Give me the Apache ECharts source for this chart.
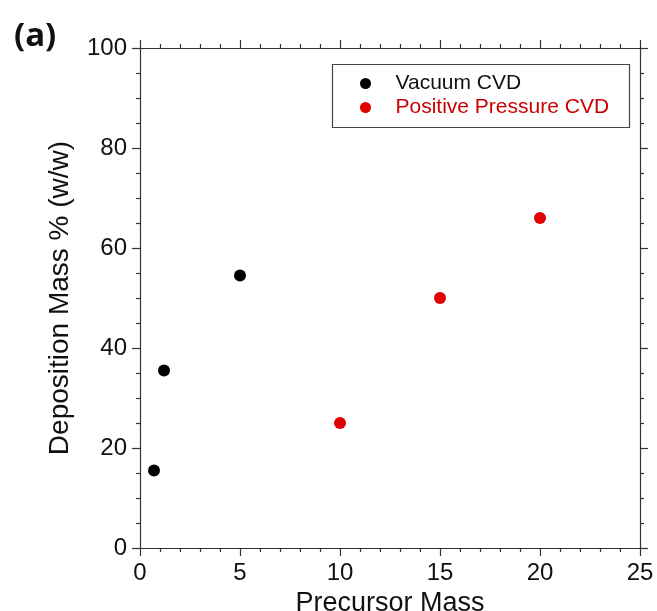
<!DOCTYPE html>
<html>
<head>
<meta charset="utf-8">
<script src="https://cdn.jsdelivr.net/npm/echarts@6/dist/echarts.min.js"></script>
<style>
html,body{margin:0;padding:0;background:#fff;}
#chart{width:657px;height:611px;}
</style>
</head>
<body>
<div id="chart"></div>
<script>
// Data
var seriesNames = ['Vacuum CVD', 'Positive Pressure CVD'];
var vacuumX = [0.7, 1.2, 5];
var vacuumY = [15.5, 35.5, 54.5];
var pressureX = [10, 15, 20];
var pressureY = [25, 50, 66];
var xTicks = [0, 5, 10, 15, 20, 25];
var yTicks = [0, 20, 40, 60, 80, 100];
var xTitle = 'Precursor Mass';
var yTitle = 'Deposition Mass % (w/w)';
var panelLabel = '(a)';

function pairs(xs, ys) { return xs.map(function (x, i) { return [x, ys[i]]; }); }

var FONT = '"Liberation Sans", Arial, sans-serif';
var AX = '#333';

function axisCommon(extra) {
  var base = {
    type: 'value',
    axisLine: { show: true, onZero: false, lineStyle: { color: AX, width: 1.2 } },
    axisTick: { show: true, inside: false, length: 8, lineStyle: { color: AX, width: 1.2 } },
    minorTick: { show: true, length: 4, lineStyle: { color: AX, width: 1.2 } },
    splitLine: { show: false },
    minorSplitLine: { show: false }
  };
  for (var k in extra) base[k] = extra[k];
  return base;
}

var chart = echarts.init(document.getElementById('chart'), null, { renderer: 'canvas' });
chart.setOption({
  backgroundColor: '#fff',
  animation: false,
  grid: { left: 140, right: 17, top: 48, bottom: 63, containLabel: false, outerBoundsMode: 'none' },
  xAxis: [
    axisCommon({
      position: 'bottom', min: xTicks[0], max: xTicks[xTicks.length - 1], interval: xTicks[1] - xTicks[0],
      minorTick: { show: true, splitNumber: 5, length: 4, lineStyle: { color: AX, width: 1.2 } },
      axisLabel: { show: true, margin: 13, fontSize: 24, color: '#111', fontFamily: FONT },
      name: xTitle, nameLocation: 'middle', nameGap: 34,
      nameTextStyle: { fontSize: 27, color: '#111', fontFamily: FONT }
    }),
    axisCommon({
      position: 'top', min: xTicks[0], max: xTicks[xTicks.length - 1], interval: xTicks[1] - xTicks[0],
      minorTick: { show: true, splitNumber: 5, length: 4, lineStyle: { color: AX, width: 1.2 } },
      axisLabel: { show: false }
    })
  ],
  yAxis: [
    axisCommon({
      position: 'left', min: yTicks[0], max: yTicks[yTicks.length - 1], interval: yTicks[1] - yTicks[0],
      minorTick: { show: true, splitNumber: 4, length: 4, lineStyle: { color: AX, width: 1.2 } },
      axisLabel: { show: true, margin: 13, fontSize: 24, color: '#111', fontFamily: FONT },
      name: yTitle, nameLocation: 'middle', nameGap: 66, nameRotate: 90,
      nameTextStyle: { fontSize: 28, color: '#111', fontFamily: FONT }
    }),
    axisCommon({
      position: 'right', min: yTicks[0], max: yTicks[yTicks.length - 1], interval: yTicks[1] - yTicks[0],
      minorTick: { show: true, splitNumber: 4, length: 4, lineStyle: { color: AX, width: 1.2 } },
      axisLabel: { show: false }
    })
  ],
  legend: {
    orient: 'vertical',
    left: 330, top: 62,
    padding: [11, 10, 9, 30],
    itemWidth: 50, itemHeight: 11, itemGap: 3,
    icon: 'circle',
    textStyle: { fontSize: 21, fontFamily: FONT, lineHeight: 20 },
    data: [
      { name: seriesNames[0], textStyle: { color: '#111' } },
      { name: seriesNames[1], textStyle: { color: '#cc0000' } }
    ]
  },
  graphic: [
    { type: 'rect', left: 330, top: 62, shape: { width: 297, height: 63 },
      style: { fill: 'none', stroke: '#444', lineWidth: 1.2 }, z: 100 },
    { type: 'text', left: 14, top: 20,
      style: { text: panelLabel, font: 'bold 33px "Open Sans", "DejaVu Sans", sans-serif', fill: '#111' } }
  ],
  series: [
    { name: seriesNames[0], type: 'scatter', xAxisIndex: 0, yAxisIndex: 0, symbol: 'circle', symbolSize: 12,
      itemStyle: { color: '#000', opacity: 1 }, data: pairs(vacuumX, vacuumY) },
    { name: seriesNames[1], type: 'scatter', xAxisIndex: 0, yAxisIndex: 0, symbol: 'circle', symbolSize: 12,
      itemStyle: { color: '#e00000', opacity: 1 }, data: pairs(pressureX, pressureY) }
  ]
});
</script>
</body>
</html>
